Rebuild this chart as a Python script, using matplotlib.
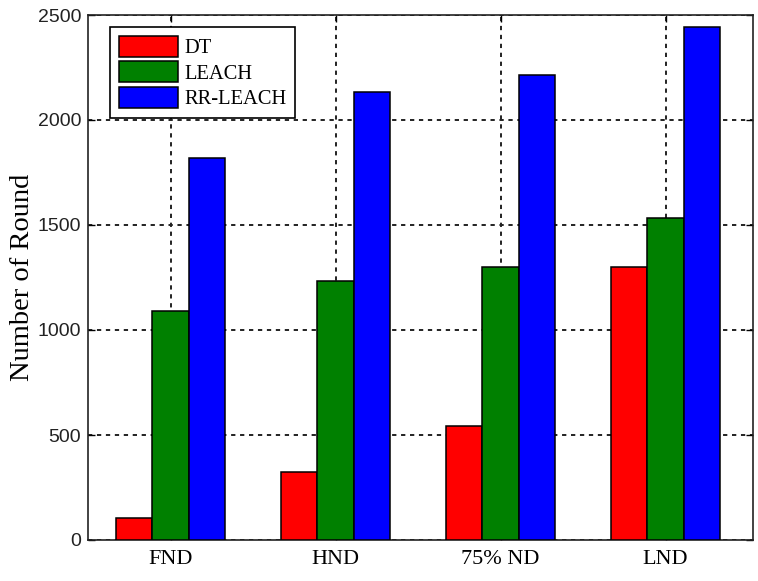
import matplotlib
matplotlib.use("Agg")
import matplotlib.pyplot as plt
import numpy as np

categories = ["FND", "HND", "75% ND", "LND"]
series_names = ["DT", "LEACH", "RR-LEACH"]
dt_values = [105, 322, 543, 1302]
leach_values = [1090, 1233, 1302, 1532]
rrleach_values = [1817, 2133, 2213, 2441]
yticks = [0, 500, 1000, 1500, 2000, 2500]

colors = ["#ff0000", "#008000", "#0000ff"]
serif = ["Liberation Serif", "DejaVu Serif"]
sans = ["Liberation Sans", "DejaVu Sans"]

fig = plt.figure(figsize=(7.58, 5.81), dpi=100)
ax = fig.add_axes([88 / 758, 1 - 540 / 581, 665 / 758, 525 / 581])

x = np.arange(1, len(categories) + 1)
width = 0.222
all_vals = [dt_values, leach_values, rrleach_values]
for i, (vals, name, col) in enumerate(zip(all_vals, series_names, colors)):
    ax.bar(x + (i - 1) * width, vals, width, color=col, edgecolor="black",
           linewidth=1.1, label=name, zorder=3)

ax.set_xlim(0.5, 4.53)
ax.set_ylim(0, 2500)
ax.set_xticks(x)
ax.set_xticklabels(categories, fontsize=16, family=serif)
ax.set_yticks(yticks)
ax.set_yticklabels([str(v) for v in yticks], fontsize=14, family=sans, color="#222222")
ax.tick_params(axis="both", direction="in", top=True, right=True, length=5, width=1)
ax.tick_params(axis="x", pad=7)
ax.tick_params(axis="y", pad=5)

ax.set_axisbelow(True)
ax.grid(True, color="#222222", linestyle=(0, (2.2, 2.4)), linewidth=1.4, zorder=0)

for s in ax.spines.values():
    s.set_color("#222222")
    s.set_linewidth(1.2)

ax.set_ylabel("Number of Round", fontsize=20.5, family=serif, labelpad=2)

leg = ax.legend(loc="upper left", bbox_to_anchor=(22 / 665, 1 - 12 / 525),
                borderaxespad=0, prop={"family": serif, "size": 14.8},
                handlelength=2.9, handleheight=1.2, labelspacing=0.15,
                handletextpad=0.3, borderpad=0.42, fancybox=False,
                edgecolor="black", framealpha=1)
leg.get_frame().set_linewidth(1.2)
leg.set_zorder(5)

fig.savefig("out.png", dpi=100)
